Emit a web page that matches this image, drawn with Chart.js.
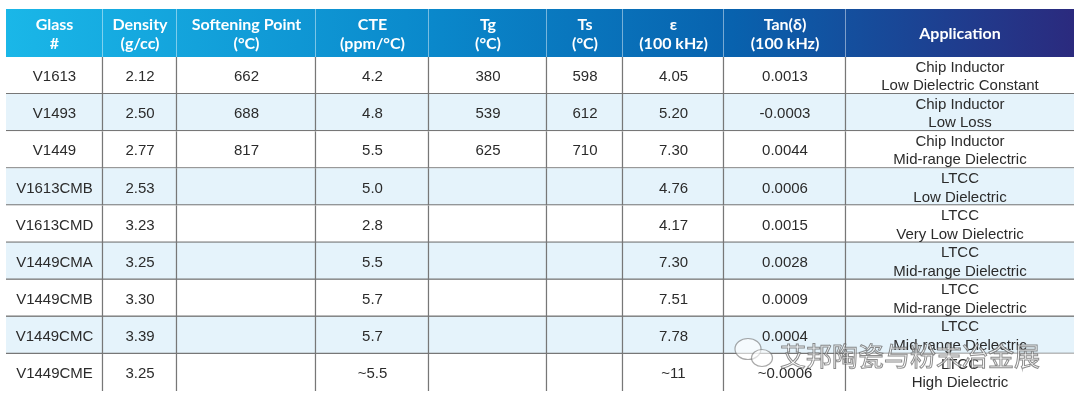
<!DOCTYPE html>
<html>
<head>
<meta charset="utf-8">
<script src="https://cdn.jsdelivr.net/npm/chart.js@4.4.1/dist/chart.umd.min.js"></script>
<style>
  html, body { margin: 0; padding: 0; background: #fff; }
  #wrap { width: 1080px; height: 405px; }
</style>
</head>
<body>
<div id="wrap"><canvas id="glassTable"></canvas></div>
<script>
// table data
var headers = [
    ['Glass', '#'], ['Density', '(g/cc)'], ['Softening Point', '(°C)'], ['CTE', '(ppm/°C)'],
    ['Tg', '(°C)'], ['Ts', '(°C)'], ['ε', '(100 kHz)'], ['Tan(δ)', '(100 kHz)'], ['Application']
];
var glassNames = ['V1613', 'V1493', 'V1449', 'V1613CMB', 'V1613CMD', 'V1449CMA', 'V1449CMB', 'V1449CMC', 'V1449CME'];
var density = ['2.12', '2.50', '2.77', '2.53', '3.23', '3.25', '3.30', '3.39', '3.25'];
var softening = ['662', '688', '817', '', '', '', '', '', ''];
var cte = ['4.2', '4.8', '5.5', '5.0', '2.8', '5.5', '5.7', '5.7', '~5.5'];
var tg = ['380', '539', '625', '', '', '', '', '', ''];
var ts = ['598', '612', '710', '', '', '', '', '', ''];
var epsilon = ['4.05', '5.20', '7.30', '4.76', '4.17', '7.30', '7.51', '7.78', '~11'];
var tanDelta = ['0.0013', '-0.0003', '0.0044', '0.0006', '0.0015', '0.0028', '0.0009', '0.0004', '~0.0006'];
var application = [
    ['Chip Inductor', 'Low Dielectric Constant'],
    ['Chip Inductor', 'Low Loss'],
    ['Chip Inductor', 'Mid-range Dielectric'],
    ['LTCC', 'Low Dielectric'],
    ['LTCC', 'Very Low Dielectric'],
    ['LTCC', 'Mid-range Dielectric'],
    ['LTCC', 'Mid-range Dielectric'],
    ['LTCC', 'Mid-range Dielectric'],
    ['LTCC', 'High Dielectric']
];

// layout only
var colWidths = [97, 74, 139, 113, 118, 76, 101, 122, 228];
var columns = [glassNames, density, softening, cte, tg, ts, epsilon, tanDelta, application];
var lastCol = colWidths.length - 1;
var lastRow = glassNames.length - 1;
var totalWidth = colWidths.reduce(function(a, b) { return a + b; }, 0);

var headerPlugin = {
    id: 'tableText',
    afterDatasetsDraw: function(chart) {
        var ctx = chart.ctx;
        var area = chart.chartArea;
        var top = area.top - 48;
        ctx.save();

        // header band
        var grad = ctx.createLinearGradient(area.left, 0, area.right, 0);
        grad.addColorStop(0, '#1ab7e8');
        grad.addColorStop(0.4, '#0a88cb');
        grad.addColorStop(0.68, '#0862ae');
        grad.addColorStop(1, '#2b2a7e');
        ctx.fillStyle = grad;
        ctx.fillRect(area.left, top, area.right - area.left, 48);

        ctx.textAlign = 'center';
        ctx.textBaseline = 'middle';
        chart.data.datasets.forEach(function(ds, c) {
            var bar = chart.getDatasetMeta(c).data[0];
            var x0 = bar.base, x1 = bar.x;
            if (c < lastCol) {
                ctx.strokeStyle = 'rgba(255,255,255,0.45)';
                ctx.lineWidth = 1;
                ctx.beginPath();
                ctx.moveTo(Math.round(x1) - 0.5, top);
                ctx.lineTo(Math.round(x1) - 0.5, area.top);
                ctx.stroke();
            }
            // header labels
            var lines = headers[c];
            var cy = top + 25;
            ctx.font = 'bold 16px Lato';
            ctx.fillStyle = '#fff';
            lines.forEach(function(t, k) {
                var y = lines.length === 1 ? cy : cy - 9.5 + k * 19;
                ctx.fillText(t, (x0 + x1) / 2, y);
            });

            // body cells
            ctx.font = '15px "Liberation Sans"';
            ctx.fillStyle = '#2b2b2b';
            chart.getDatasetMeta(c).data.forEach(function(el, r) {
                var v = columns[c][r];
                var cx = (el.base + el.x) / 2;
                var cyb = el.y + 1.5;
                if (Array.isArray(v)) {
                    ctx.fillText(v[0], cx, cyb - 9.5);
                    ctx.fillText(v[1], cx, cyb + 9);
                } else if (v) {
                    ctx.fillText(v, cx, cyb);
                }
            });
        });
        ctx.restore();
    },
    afterDraw: function(chart) {
        // watermark
        var ctx = chart.ctx;
        ctx.save();
        ctx.lineWidth = 1.2;
        ctx.strokeStyle = 'rgba(110,110,110,0.6)';
        ctx.fillStyle = 'rgba(255,255,255,0.6)';
        ctx.beginPath();
        ctx.ellipse(748, 349, 13, 10.5, 0, 0, Math.PI * 2);
        ctx.fill(); ctx.stroke();
        ctx.beginPath();
        ctx.ellipse(762, 358, 10.5, 8.5, 0, 0, Math.PI * 2);
        ctx.fill(); ctx.stroke();
        ctx.font = '26px "Noto Sans CJK SC"';
        ctx.textAlign = 'left';
        ctx.textBaseline = 'alphabetic';
        ctx.lineWidth = 1;
        ctx.fillStyle = 'rgba(255,255,255,0.65)';
        ctx.strokeStyle = 'rgba(90,90,90,0.7)';
        ctx.fillText('艾邦陶瓷与粉末冶金展', 780, 366);
        ctx.strokeText('艾邦陶瓷与粉末冶金展', 780, 366);
        ctx.restore();
    }
};

document.addEventListener('DOMContentLoaded', function() {
    var ctx = document.getElementById('glassTable').getContext('2d');
    new Chart(ctx, {
        type: 'bar',
        data: {
            labels: glassNames,
            datasets: colWidths.map(function(w, c) {
                return {
                    label: headers[c].join(' '),
                    data: glassNames.map(function() { return w; }),
                    backgroundColor: function(context) {
                        return context.dataIndex % 2 ? '#e5f3fb' : '#ffffff';
                    },
                    borderColor: '#777777',
                    borderWidth: function(context) {
                        return {
                            top: 0, left: 0,
                            right: c < lastCol ? 1.5 : 0,
                            bottom: context.dataIndex < lastRow ? 1.5 : 0
                        };
                    },
                    borderSkipped: false,
                    barPercentage: 1,
                    categoryPercentage: 1
                };
            })
        },
        options: {
            indexAxis: 'y',
            responsive: true,
            maintainAspectRatio: false,
            devicePixelRatio: 1,
            animation: false,
            layout: { padding: { left: 6, right: 6, top: 57, bottom: 14 } },
            scales: {
                x: { stacked: true, min: 0, max: totalWidth, display: false },
                y: { stacked: true, display: false }
            },
            plugins: {
                legend: { display: false },
                tooltip: { enabled: false }
            }
        },
        plugins: [headerPlugin]
    });
});
</script>
</body>
</html>
